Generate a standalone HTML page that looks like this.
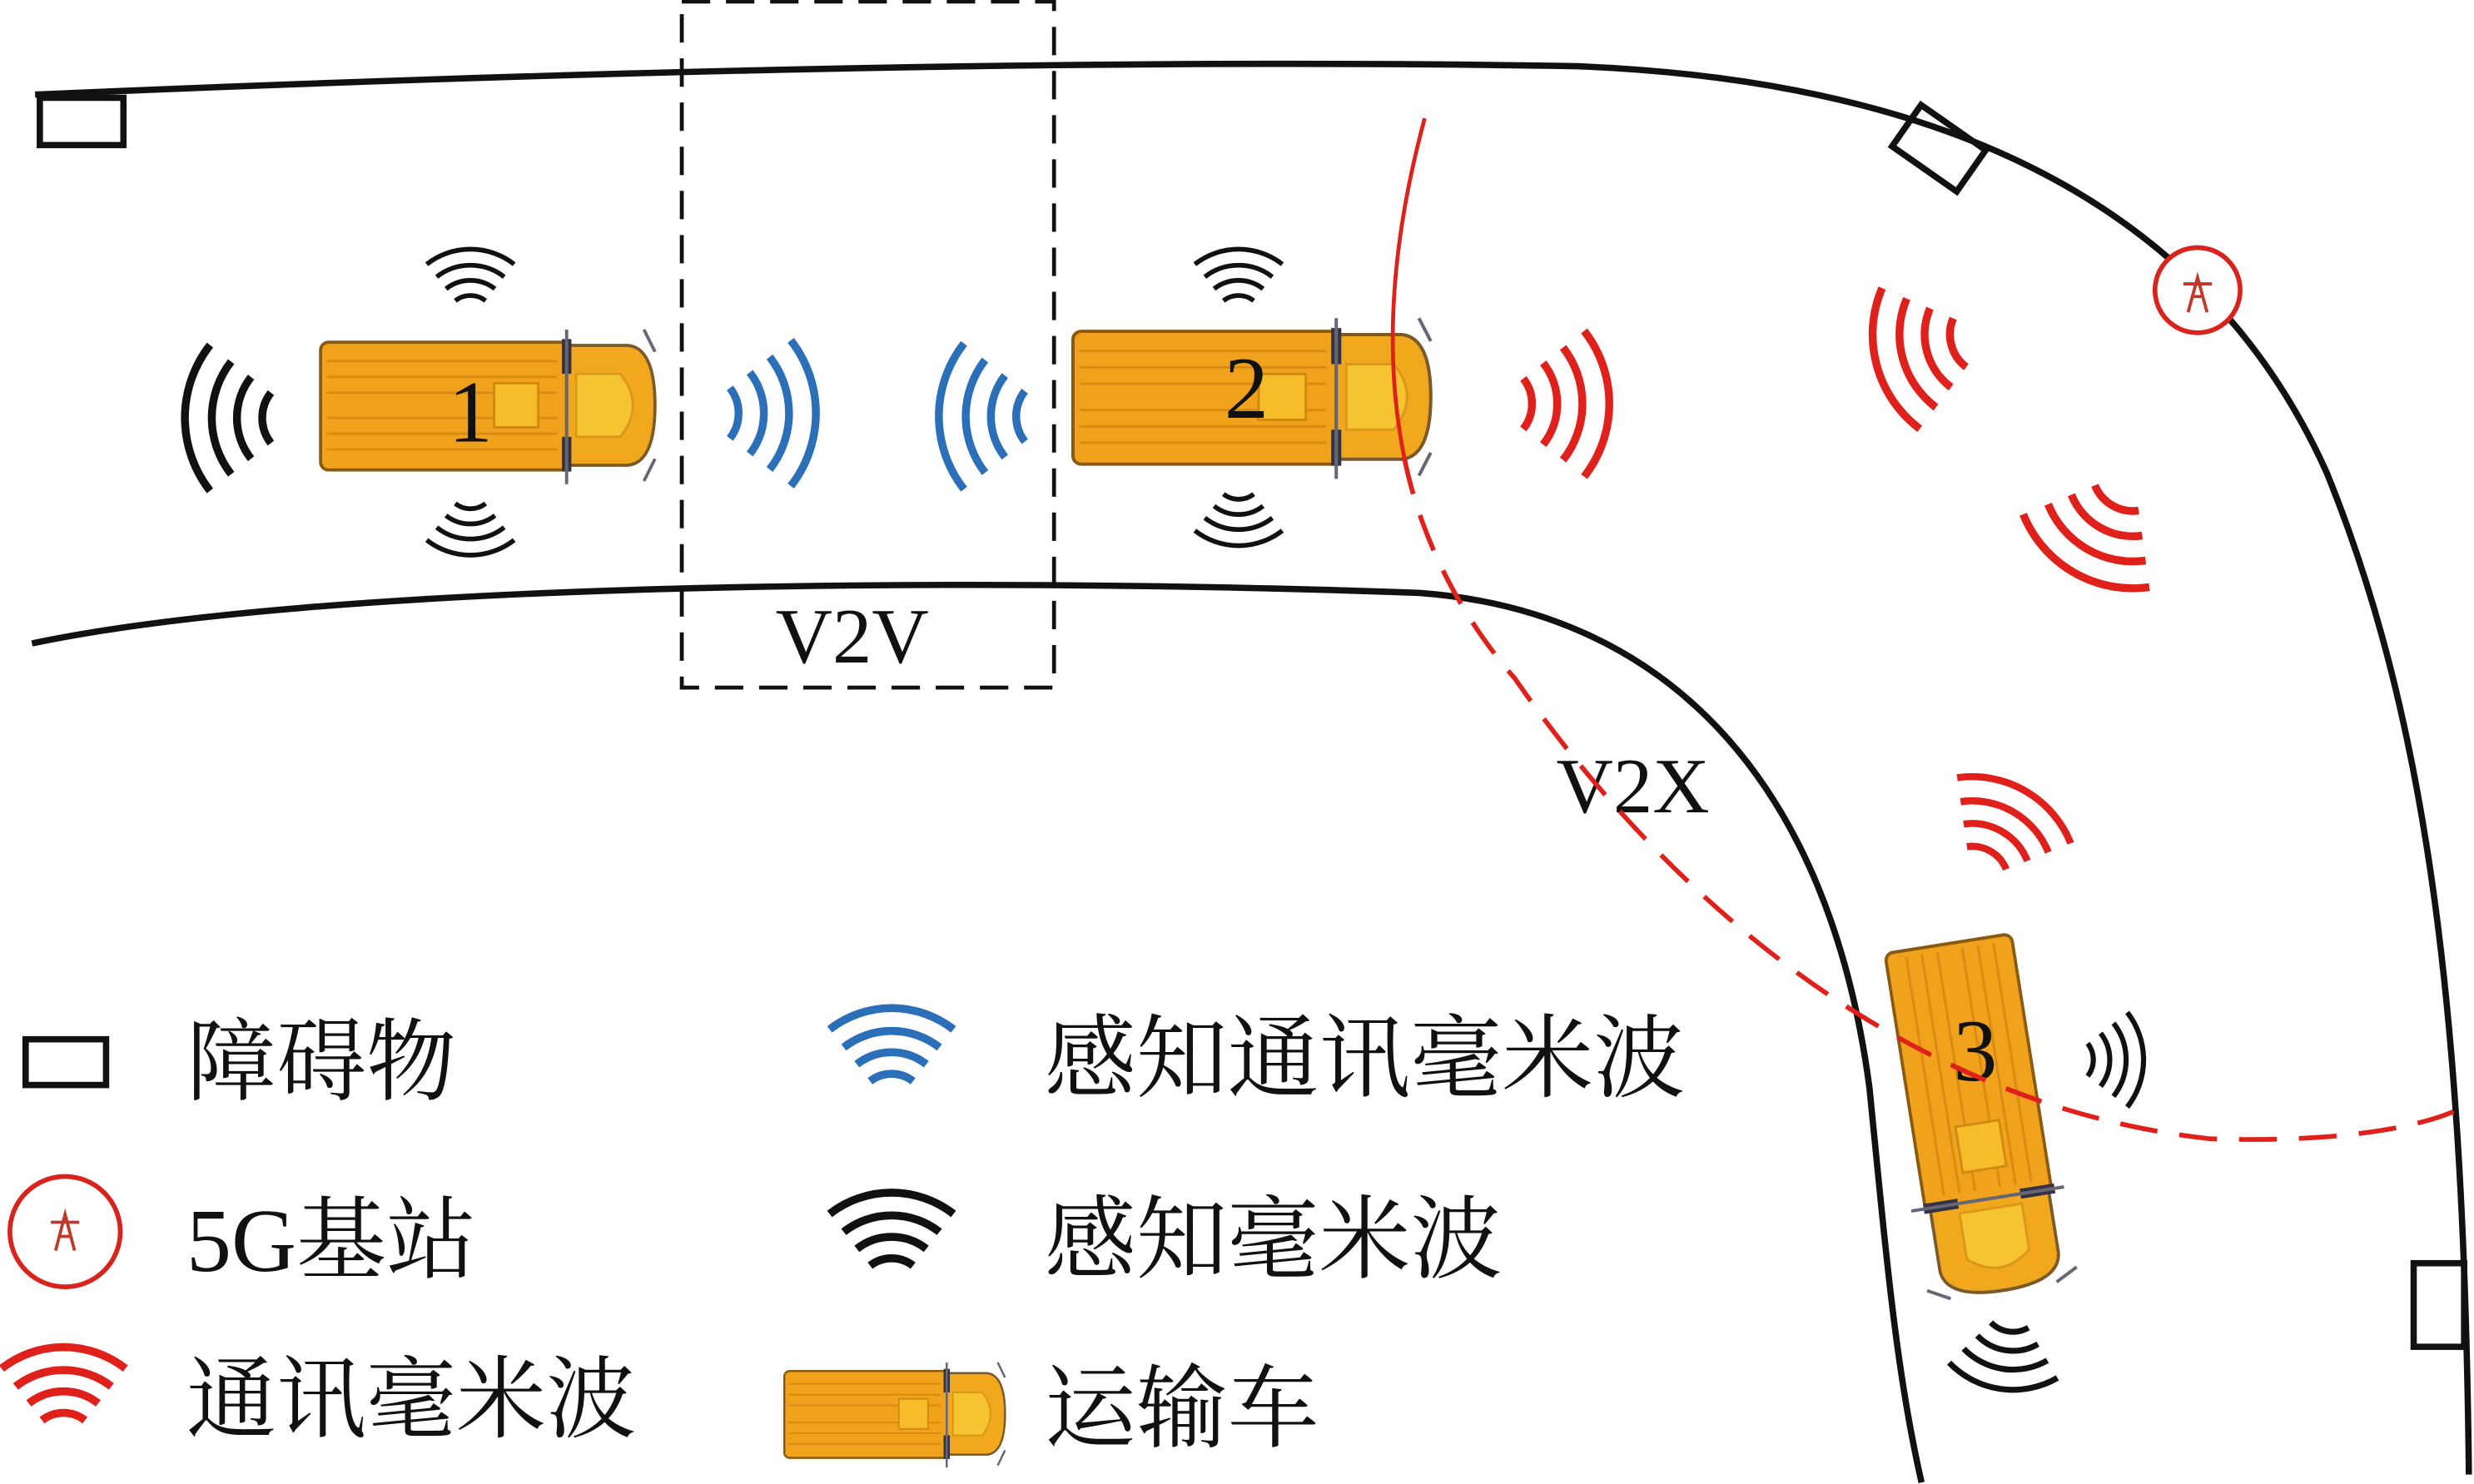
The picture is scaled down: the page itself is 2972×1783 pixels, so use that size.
<!DOCTYPE html>
<html><head><meta charset="utf-8"><style>
html,body{margin:0;padding:0;background:#fff;}
svg{display:block;}
.cn{font-family:"Liberation Serif","Noto Serif CJK SC",serif;fill:#111;}
.lat{font-family:"Liberation Serif",serif;fill:#111;}
</style></head><body>
<svg width="2972" height="1783" viewBox="0 0 1568 941" xmlns="http://www.w3.org/2000/svg">
<defs>
<g id="w" fill="none" stroke-linecap="butt">
<path d="M20.5 -16 A26 26 0 0 1 20.5 16"/>
<path d="M33.1 -25.9 A42 42 0 0 1 33.1 25.9"/>
<path d="M45.7 -35.7 A58 58 0 0 1 45.7 35.7"/>
<path d="M59.1 -46.2 A75 75 0 0 1 59.1 46.2"/>
</g>
<g id="truck">
<rect x="0" y="2" width="158" height="81" rx="5" fill="#f0a21c" stroke="#8a5a10" stroke-width="2"/>
<g stroke="#d98a10" stroke-width="1.5">
<line x1="4" y1="14" x2="150" y2="14"/><line x1="4" y1="24" x2="150" y2="24"/>
<line x1="4" y1="34" x2="150" y2="34"/><line x1="4" y1="50" x2="150" y2="50"/>
<line x1="4" y1="60" x2="150" y2="60"/><line x1="4" y1="70" x2="150" y2="70"/>
</g>
<rect x="110" y="28" width="28" height="28" fill="#f6bd2a" stroke="#d08a10" stroke-width="1.5"/>
<path d="M156 4 L195 4 Q212 6 212 42 Q212 78 195 80 L156 80 Z" fill="#f2a81c" stroke="#7a5a2a" stroke-width="2"/>
<path d="M162 22 L190 22 Q206 42 190 62 L162 62 Z" fill="#f7c431" stroke="#d9981a" stroke-width="1.5"/>
<rect x="153" y="0" width="6" height="22" fill="#334"/>
<rect x="153" y="62" width="6" height="22" fill="#334"/>
<line x1="156" y1="-6" x2="156" y2="92" stroke="#667" stroke-width="2"/>
<line x1="205" y1="-6" x2="212" y2="8" stroke="#667" stroke-width="2"/>
<line x1="205" y1="90" x2="212" y2="76" stroke="#667" stroke-width="2"/>
</g>
</defs>

<!-- roads -->
<path d="M22 60 Q600 35 1000 42 C1200 50 1390 110 1475 300 C1540 460 1562 650 1565 935" fill="none" stroke="#111" stroke-width="4"/>
<path d="M20 408 C200 370 600 365 900 376 C1060 388 1160 500 1185 690 C1196 800 1202 870 1218 940" fill="none" stroke="#111" stroke-width="4"/>

<!-- obstacles -->
<rect x="25" y="62" width="53" height="30" fill="none" stroke="#111" stroke-width="4"/>
<rect x="-25" y="-16" width="50" height="32" fill="none" stroke="#111" stroke-width="4" transform="translate(1229 94) rotate(35)"/>
<rect x="1530" y="801" width="32" height="53" fill="none" stroke="#111" stroke-width="4"/>

<!-- tower -->
<circle cx="1393" cy="184" r="27" fill="#fff" stroke="#d9231c" stroke-width="3"/>
<path d="M1387 198 L1393 176 L1399 198 M1384 180 L1402 180 M1389 188 L1397 188" stroke="#c0392b" stroke-width="2" fill="none"/>

<!-- dashed box -->
<rect x="432" y="1" width="236" height="435" fill="none" stroke="#111" stroke-width="2.5" stroke-dasharray="18 10"/>
<text x="540" y="420" class="lat" font-size="50" text-anchor="middle">V2V</text>
<text x="1035" y="515" class="lat" font-size="50" text-anchor="middle">V2X</text>

<!-- trucks -->
<g transform="translate(203 215)"><use href="#truck"/></g>
<g transform="translate(680 208) scale(1.07 1.04)"><use href="#truck"/></g>
<g transform="translate(1252 704) rotate(81) translate(-107 -42) scale(1.05 1)"><use href="#truck"/></g>
<text x="298" y="280" class="lat" font-size="56" text-anchor="middle">1</text>
<text x="790" y="265" class="lat" font-size="56" text-anchor="middle">2</text>
<text x="1252" y="685" class="lat" font-size="56" text-anchor="middle">3</text>

<!-- red V2X circle -->
<path d="M903 75 C880 160 878 230 890 290" fill="none" stroke="#e0201a" stroke-width="2.5"/>
<path d="M890 290 C900 340 925 390 960 430 C1050 560 1200 700 1400 722 C1480 725 1540 715 1565 700" fill="none" stroke="#e0201a" stroke-width="3" stroke-dasharray="24 14"/>

<!-- waves black -->
<g stroke="#111" stroke-width="5">
<use href="#w" transform="translate(192 265) rotate(180)"/>
<use href="#w" transform="translate(298 203) rotate(-90) scale(0.6)"/>
<use href="#w" transform="translate(298 307) rotate(90) scale(0.6)"/>
<use href="#w" transform="translate(785 203) rotate(-90) scale(0.6)"/>
<use href="#w" transform="translate(785 301) rotate(90) scale(0.6)"/>
<use href="#w" transform="translate(1310 672) scale(0.65)"/>
<use href="#w" transform="translate(1276 825) rotate(98) scale(0.75)"/>
</g>
<g stroke="#2a6fb8" stroke-width="5">
<use href="#w" transform="translate(442 262)"/>
<use href="#w" transform="translate(670 264) rotate(180)"/>
</g>
<g stroke="#e0201a" stroke-width="5">
<use href="#w" transform="translate(945 256)"/>
<use href="#w" transform="translate(1262 212) rotate(165)"/>
<use href="#w" transform="translate(1352 298) rotate(120)"/>
<use href="#w" transform="translate(1250 560) rotate(-60) scale(0.9)"/>
</g>

<!-- legend -->
<rect x="16" y="659" width="51" height="29" fill="none" stroke="#111" stroke-width="4"/>
<text x="118" y="693" class="cn" font-size="57">障碍物</text>
<circle cx="41" cy="781" r="35" fill="none" stroke="#d9231c" stroke-width="3"/>
<path d="M35 793 L41 770 L47 793 M32 775 L50 775 M37 784 L45 784" stroke="#c0392b" stroke-width="2" fill="none"/>
<text x="118" y="806" class="cn" font-size="57">5G基站</text>
<g stroke="#e0201a" stroke-width="6"><use href="#w" transform="translate(40 918) rotate(-90) scale(0.85 0.85)"/></g>
<text x="118" y="907" class="cn" font-size="57">通讯毫米波</text>
<g stroke="#2a6fb8" stroke-width="6"><use href="#w" transform="translate(565 703) rotate(-90) scale(0.85)"/></g>
<text x="662" y="691" class="cn" font-size="58">感知通讯毫米波</text>
<g stroke="#111" stroke-width="6"><use href="#w" transform="translate(565 820) rotate(-90) scale(0.85)"/></g>
<text x="662" y="806" class="cn" font-size="58">感知毫米波</text>
<g transform="translate(497 868) scale(0.66 0.68)"><use href="#truck"/></g>
<text x="662" y="913" class="cn" font-size="58">运输车</text>
</svg>
</body></html>
